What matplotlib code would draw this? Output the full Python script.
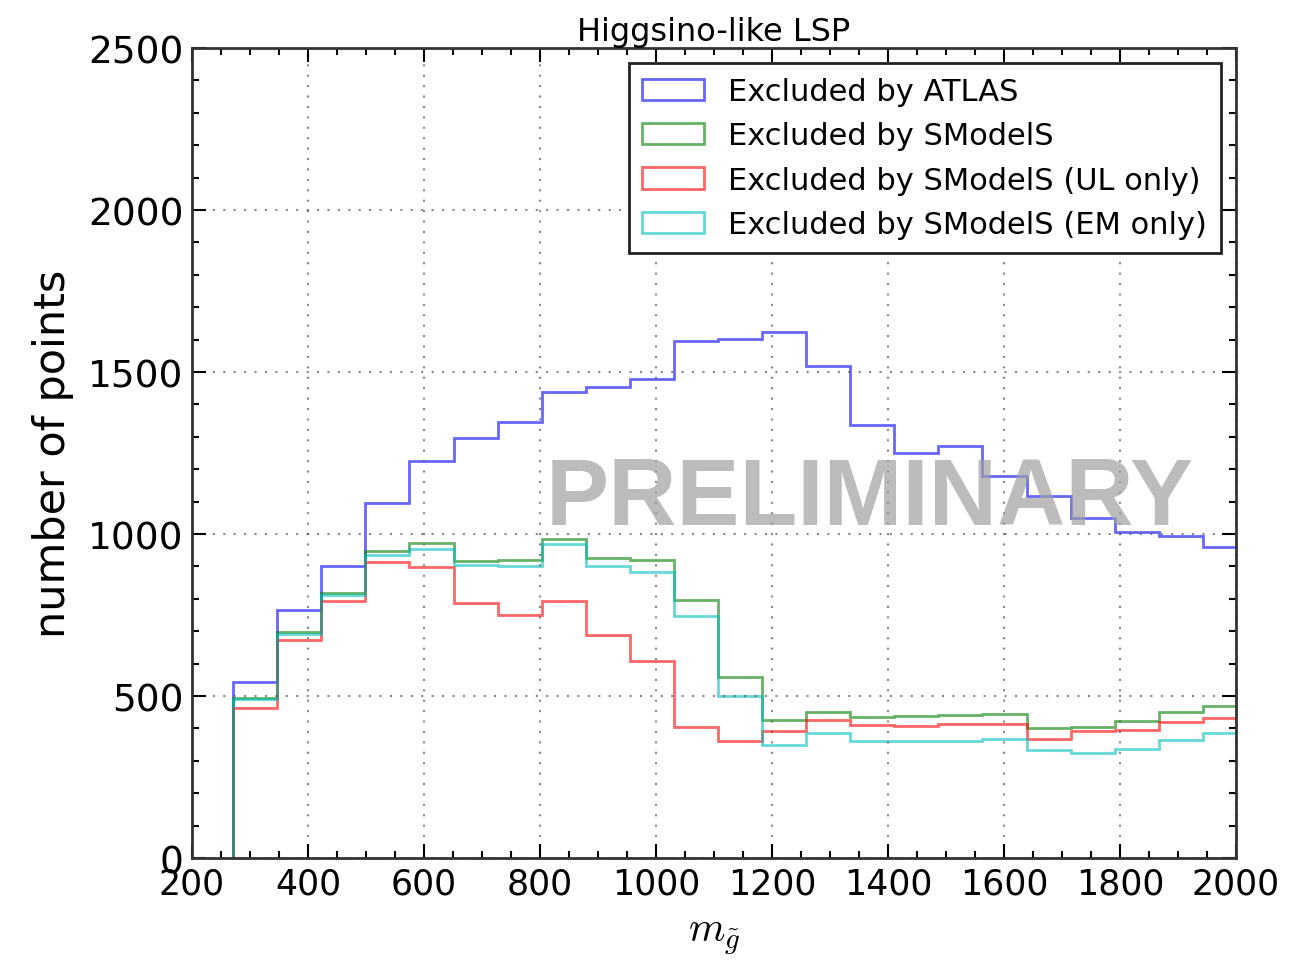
import numpy as np
import matplotlib
matplotlib.use("Agg")
from matplotlib import pyplot as plt
from matplotlib.patches import Patch
from matplotlib.ticker import MultipleLocator

# bin edges of the gluino mass histogram
edges = [271, 347, 423, 499, 575, 651, 727, 803, 879, 955, 1031, 1107,
         1183, 1259, 1335, 1411, 1487, 1563, 1639, 1715, 1791, 1867, 1943, 2019]

atlas = [542, 766, 902, 1096, 1226, 1295, 1347, 1437, 1453, 1480, 1595, 1602,
         1624, 1519, 1336, 1250, 1273, 1180, 1118, 1049, 1005, 995, 959]
smodels = [495, 697, 818, 948, 972, 918, 920, 985, 926, 920, 797, 560,
           427, 450, 436, 439, 443, 446, 401, 406, 422, 450, 468]
smodels_ul = [462, 673, 792, 915, 897, 787, 750, 794, 689, 607, 405, 362,
              391, 426, 410, 408, 415, 413, 369, 391, 395, 419, 433]
smodels_em = [490, 693, 812, 935, 954, 904, 902, 969, 900, 882, 748, 501,
              350, 386, 360, 360, 360, 367, 333, 323, 336, 364, 386]

labels = ["Excluded by ATLAS", "Excluded by SModelS",
          "Excluded by SModelS (UL only)", "Excluded by SModelS (EM only)"]
colors = ["b", "g", "r", "c"]

plt.rcParams["mathtext.fontset"] = "cm"

fig = plt.figure(figsize=(13.12, 9.62), dpi=100)
ax = fig.add_axes([0.1463, 0.107, 0.7957, 0.842])

for vals, c in zip([atlas, smodels, smodels_ul, smodels_em], colors):
    ax.stairs(vals, edges, baseline=0, fill=False, color=c, alpha=0.6, lw=2.0)

ax.set_xlim(200, 2000)
ax.set_ylim(0, 2500)
ax.xaxis.set_major_locator(MultipleLocator(200))
ax.xaxis.set_minor_locator(MultipleLocator(50))
ax.yaxis.set_major_locator(MultipleLocator(500))
ax.yaxis.set_minor_locator(MultipleLocator(100))
ax.tick_params(which="both", direction="in", top=True, right=True, width=1.5)
ax.tick_params(which="major", length=10, pad=6)
ax.tick_params(which="minor", length=5)
ax.tick_params(axis="x", labelsize=25)
ax.tick_params(axis="y", labelsize=27)
for s in ax.spines.values():
    s.set_linewidth(2)
    s.set_color("#333333")

ax.grid(True, which="major", linestyle=(0, (1, 4)), color="#555555", linewidth=1.5, alpha=0.7)

ax.set_title("Higgsino-like LSP", fontsize=23, pad=6)
ax.set_xlabel(r"$m_{\tilde{g}}$", fontsize=30, labelpad=10)
ax.set_ylabel("number of points", fontsize=31, labelpad=10)

handles = [Patch(facecolor="none", edgecolor=c, alpha=0.6, lw=2) for c in colors]
leg = ax.legend(handles, labels, loc="upper right", fontsize=22, fancybox=False,
                framealpha=1, borderaxespad=0.5, handlelength=2.0, handleheight=0.7,
                labelspacing=0.5, borderpad=0.45)
leg.get_frame().set_edgecolor("#222222")
leg.get_frame().set_linewidth(2)

ax.text(0.649, 0.413, "PRELIMINARY", transform=ax.transAxes, ha="center",
        va="baseline", fontsize=68, fontweight="bold", family="Liberation Sans",
        color="#a0a0a0", alpha=0.7, zorder=5)

plt.savefig("out.png", dpi=100)
